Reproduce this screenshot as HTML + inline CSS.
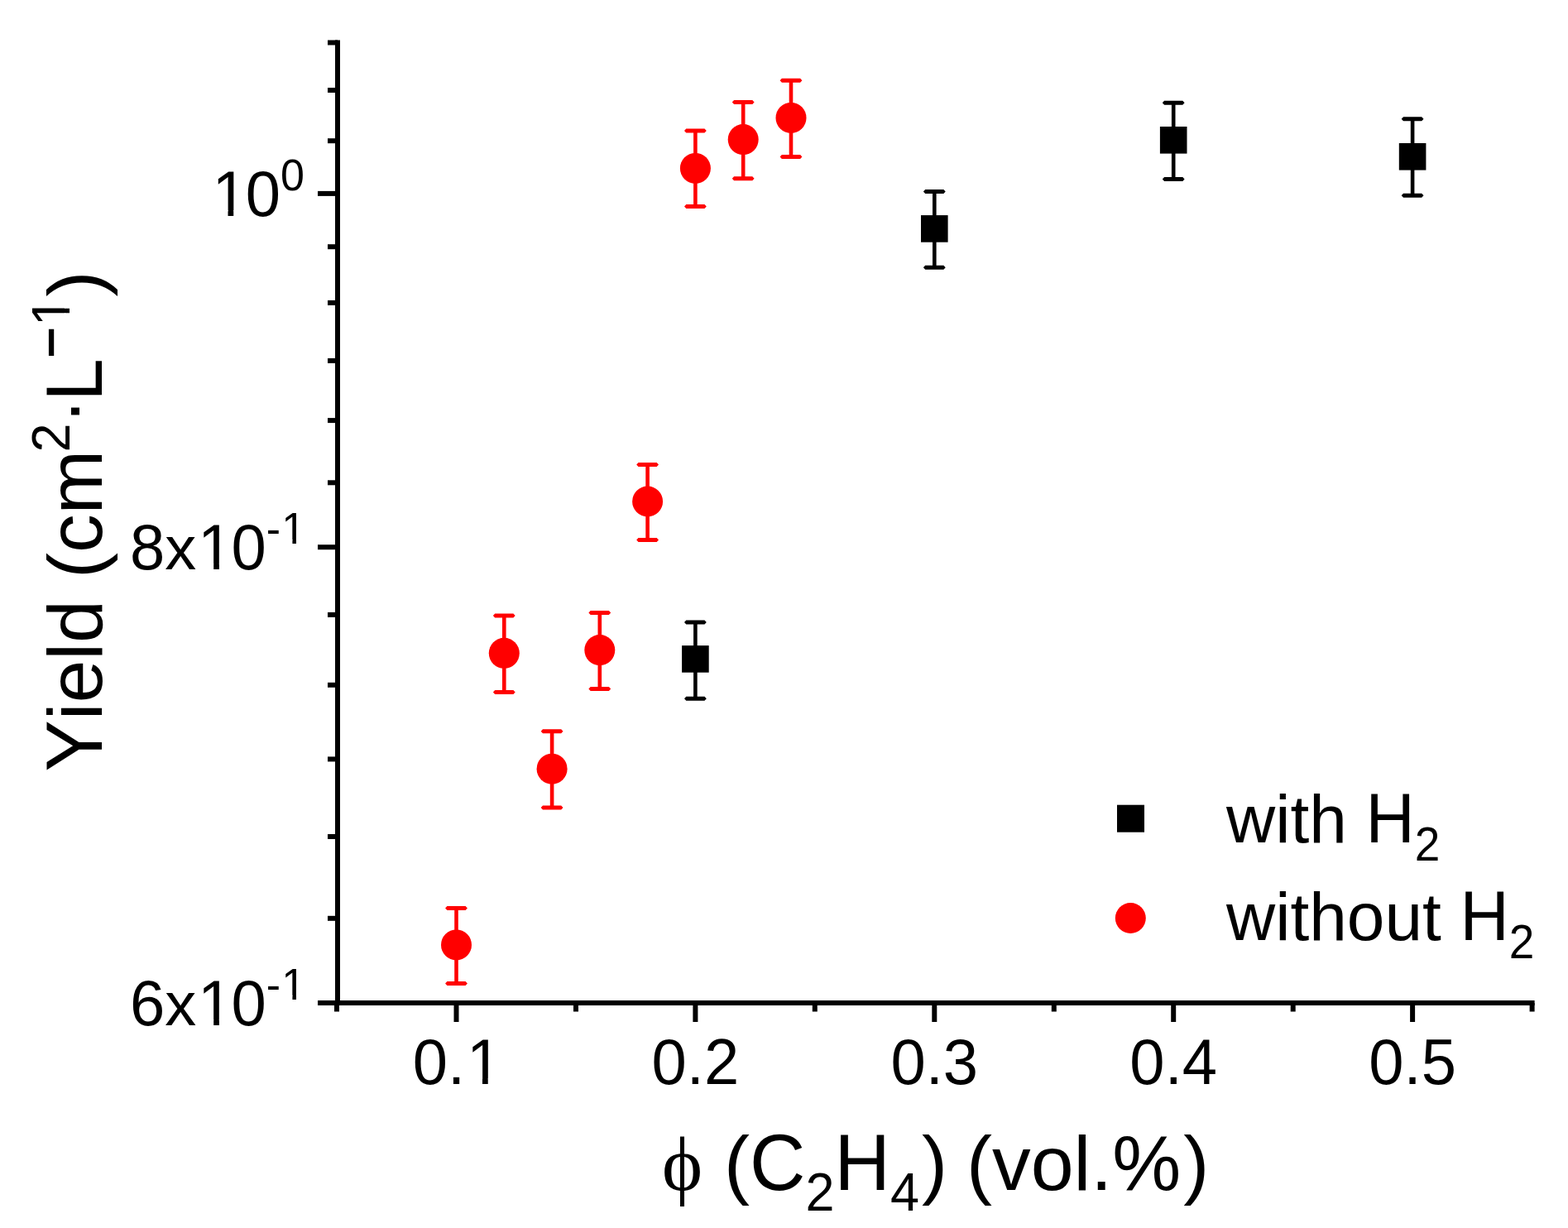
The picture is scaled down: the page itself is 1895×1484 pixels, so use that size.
<!DOCTYPE html>
<html><head><meta charset="utf-8"><title>Yield vs C2H4 fraction</title><style>
html,body{margin:0;padding:0;background:#fff;}
svg{display:block;font-family:"Liberation Sans",Arial,sans-serif;font-kerning:none;}
text{fill:#000;}
</style></head><body>
<svg width="1895" height="1484" viewBox="0 0 1895 1484">
<rect width="1895" height="1484" fill="#fff"/>
<defs><clipPath id="c1_76" clipPathUnits="userSpaceOnUse"><rect x="-38.00" y="-152.00" width="152.00" height="145.12"/><rect x="19.11" y="-9.68" width="6.72" height="47.68"/></clipPath><clipPath id="c1_52" clipPathUnits="userSpaceOnUse"><rect x="-26.00" y="-104.00" width="104.00" height="98.92"/><rect x="13.08" y="-7.88" width="4.60" height="33.88"/></clipPath><clipPath id="c1_63" clipPathUnits="userSpaceOnUse"><rect x="-31.50" y="-126.00" width="126.00" height="120.09"/><rect x="15.84" y="-8.71" width="5.57" height="40.21"/></clipPath></defs>
<g stroke="#000" stroke-width="6" fill="none">
<line x1="408" y1="48.5" x2="408" y2="1215"/>
<line x1="405" y1="1212" x2="1854.6" y2="1212"/>
<line x1="384" y1="1212.0" x2="408" y2="1212.0"/>
<line x1="396" y1="1109.8" x2="408" y2="1109.8"/>
<line x1="396" y1="1011.0" x2="408" y2="1011.0"/>
<line x1="396" y1="917.4" x2="408" y2="917.4"/>
<line x1="396" y1="827.8" x2="408" y2="827.8"/>
<line x1="396" y1="742.9" x2="408" y2="742.9"/>
<line x1="384" y1="661.2" x2="408" y2="661.2"/>
<line x1="396" y1="583.3" x2="408" y2="583.3"/>
<line x1="396" y1="508.1" x2="408" y2="508.1"/>
<line x1="396" y1="435.9" x2="408" y2="435.9"/>
<line x1="396" y1="365.9" x2="408" y2="365.9"/>
<line x1="396" y1="298.2" x2="408" y2="298.2"/>
<line x1="384" y1="233.9" x2="408" y2="233.9"/>
<line x1="396" y1="170.2" x2="408" y2="170.2"/>
<line x1="396" y1="109.0" x2="408" y2="109.0"/>
<line x1="396" y1="51.5" x2="408" y2="51.5"/>
<line x1="407.0" y1="1212" x2="407.0" y2="1222.5"/>
<line x1="551.5" y1="1212" x2="551.5" y2="1235"/>
<line x1="696.0" y1="1212" x2="696.0" y2="1222.5"/>
<line x1="840.4" y1="1212" x2="840.4" y2="1235"/>
<line x1="984.8" y1="1212" x2="984.8" y2="1222.5"/>
<line x1="1129.3" y1="1212" x2="1129.3" y2="1235"/>
<line x1="1273.8" y1="1212" x2="1273.8" y2="1222.5"/>
<line x1="1418.2" y1="1212" x2="1418.2" y2="1235"/>
<line x1="1562.7" y1="1212" x2="1562.7" y2="1222.5"/>
<line x1="1707.1" y1="1212" x2="1707.1" y2="1235"/>
<line x1="1851.6" y1="1212" x2="1851.6" y2="1222.5"/>
</g>
<path d="M840.4 751.9V844.3" stroke="#000" stroke-width="4.6" fill="none"/><path d="M827.0 751.9L829.3 749.4H851.5L853.8 751.9L851.5 754.4H829.3ZM827.0 844.3L829.3 841.8H851.5L853.8 844.3L851.5 846.8H829.3Z" fill="#000"/>
<rect x="824.1" y="780.1" width="32.6" height="32.6" fill="#000"/>
<path d="M1129.3 231.5V323.2" stroke="#000" stroke-width="4.6" fill="none"/><path d="M1115.9 231.5L1118.2 229.0H1140.4L1142.7 231.5L1140.4 234.0H1118.2ZM1115.9 323.2L1118.2 320.7H1140.4L1142.7 323.2L1140.4 325.7H1118.2Z" fill="#000"/>
<rect x="1113.0" y="260.1" width="32.6" height="32.6" fill="#000"/>
<path d="M1418.2 124.3V216.5" stroke="#000" stroke-width="4.6" fill="none"/><path d="M1404.8 124.3L1407.1 121.8H1429.3L1431.6 124.3L1429.3 126.8H1407.1ZM1404.8 216.5L1407.1 214.0H1429.3L1431.6 216.5L1429.3 219.0H1407.1Z" fill="#000"/>
<rect x="1401.9" y="153.0" width="32.6" height="32.6" fill="#000"/>
<path d="M1707.1 143.8V236.3" stroke="#000" stroke-width="4.6" fill="none"/><path d="M1693.7 143.8L1696.0 141.3H1718.2L1720.5 143.8L1718.2 146.3H1696.0ZM1693.7 236.3L1696.0 233.8H1718.2L1720.5 236.3L1718.2 238.8H1696.0Z" fill="#000"/>
<rect x="1690.8" y="173.0" width="32.6" height="32.6" fill="#000"/>
<path d="M551.5 1097.4V1188.5" stroke="#f00" stroke-width="4.6" fill="none"/><path d="M538.1 1097.4L540.4 1094.9H562.6L564.9 1097.4L562.6 1099.9H540.4ZM538.1 1188.5L540.4 1186.0H562.6L564.9 1188.5L562.6 1191.0H540.4Z" fill="#f00"/>
<circle cx="551.5" cy="1141.9" r="18.5" fill="#f00"/>
<path d="M609.3 744.0V836.4" stroke="#f00" stroke-width="4.6" fill="none"/><path d="M595.9 744.0L598.2 741.5H620.4L622.7 744.0L620.4 746.5H598.2ZM595.9 836.4L598.2 833.9H620.4L622.7 836.4L620.4 838.9H598.2Z" fill="#f00"/>
<circle cx="609.3" cy="789.3" r="18.5" fill="#f00"/>
<path d="M667.1 883.8V976.0" stroke="#f00" stroke-width="4.6" fill="none"/><path d="M653.7 883.8L656.0 881.3H678.2L680.5 883.8L678.2 886.3H656.0ZM653.7 976.0L656.0 973.5H678.2L680.5 976.0L678.2 978.5H656.0Z" fill="#f00"/>
<circle cx="667.1" cy="929.2" r="18.5" fill="#f00"/>
<path d="M724.8 740.4V832.5" stroke="#f00" stroke-width="4.6" fill="none"/><path d="M711.4 740.4L713.7 737.9H735.9L738.2 740.4L735.9 742.9H713.7ZM711.4 832.5L713.7 830.0H735.9L738.2 832.5L735.9 835.0H713.7Z" fill="#f00"/>
<circle cx="724.8" cy="785.6" r="18.5" fill="#f00"/>
<path d="M782.6 561.4V652.5" stroke="#f00" stroke-width="4.6" fill="none"/><path d="M769.2 561.4L771.5 558.9H793.7L796.0 561.4L793.7 563.9H771.5ZM769.2 652.5L771.5 650.0H793.7L796.0 652.5L793.7 655.0H771.5Z" fill="#f00"/>
<circle cx="782.6" cy="606.0" r="18.5" fill="#f00"/>
<path d="M840.4 157.9V249.4" stroke="#f00" stroke-width="4.6" fill="none"/><path d="M827.0 157.9L829.3 155.4H851.5L853.8 157.9L851.5 160.4H829.3ZM827.0 249.4L829.3 246.9H851.5L853.8 249.4L851.5 251.9H829.3Z" fill="#f00"/>
<circle cx="840.4" cy="203.4" r="18.5" fill="#f00"/>
<path d="M898.2 123.4V215.8" stroke="#f00" stroke-width="4.6" fill="none"/><path d="M884.8 123.4L887.1 120.9H909.3L911.6 123.4L909.3 125.9H887.1ZM884.8 215.8L887.1 213.3H909.3L911.6 215.8L909.3 218.3H887.1Z" fill="#f00"/>
<circle cx="898.2" cy="168.6" r="18.5" fill="#f00"/>
<path d="M956.0 97.3V189.4" stroke="#f00" stroke-width="4.6" fill="none"/><path d="M942.6 97.3L944.9 94.8H967.1L969.4 97.3L967.1 99.8H944.9ZM942.6 189.4L944.9 186.9H967.1L969.4 189.4L967.1 191.9H944.9Z" fill="#f00"/>
<circle cx="956.0" cy="142.4" r="18.5" fill="#f00"/>
<rect x="1350" y="972.7" width="33" height="33" fill="#000"/>
<circle cx="1366.3" cy="1109.5" r="18.5" fill="#f00"/>
<text transform="translate(1482.00 1018.20) scale(1 0.985)" font-size="82">with </text><text transform="translate(1650.60 1018.20) scale(1 1.04)" font-size="82">H</text><text transform="translate(1709.82 1040.00) scale(1 1.03)" font-size="55">2</text>
<text transform="translate(1482.00 1136.00) scale(1 0.985)" font-size="82">without </text><text transform="translate(1764.60 1136.00) scale(1 1.04)" font-size="82">H</text><text transform="translate(1823.81 1158.00) scale(1 1.03)" font-size="55">2</text>
<text transform="translate(256.40 261.10) scale(1 1.03)" font-size="76" clip-path="url(#c1_76)">1</text><text transform="translate(296.81 261.10) scale(1 1.03)" font-size="76">0</text><text transform="translate(339.08 230.10) scale(1 1.03)" font-size="52">0</text>
<text transform="translate(156.96 688.32) scale(1 1.03)" font-size="76">8</text><text transform="translate(199.23 688.32) scale(1 0.985)" font-size="76">x</text><text transform="translate(239.08 688.32) scale(1 1.03)" font-size="76" clip-path="url(#c1_76)">1</text><text transform="translate(279.50 688.32) scale(1 1.03)" font-size="76">0</text><text transform="translate(321.76 657.32) scale(1 1.0)" font-size="52">-</text><text transform="translate(340.35 657.32) scale(1 1.03)" font-size="52" clip-path="url(#c1_52)">1</text>
<text transform="translate(156.96 1239.10) scale(1 1.03)" font-size="76">6</text><text transform="translate(199.23 1239.10) scale(1 0.985)" font-size="76">x</text><text transform="translate(239.08 1239.10) scale(1 1.03)" font-size="76" clip-path="url(#c1_76)">1</text><text transform="translate(279.50 1239.10) scale(1 1.03)" font-size="76">0</text><text transform="translate(321.76 1208.10) scale(1 1.0)" font-size="52">-</text><text transform="translate(340.35 1208.10) scale(1 1.03)" font-size="52" clip-path="url(#c1_52)">1</text>
<text transform="translate(498.67 1310.40) scale(1 1.03)" font-size="76">0</text><text transform="translate(540.94 1310.40) scale(1 1.0)" font-size="76">.</text><text transform="translate(563.91 1310.40) scale(1 1.03)" font-size="76" clip-path="url(#c1_76)">1</text>
<text transform="translate(787.57 1310.40) scale(1 1.03)" font-size="76">0</text><text transform="translate(829.84 1310.40) scale(1 1.0)" font-size="76">.</text><text transform="translate(850.96 1310.40) scale(1 1.03)" font-size="76">2</text>
<text transform="translate(1076.47 1310.40) scale(1 1.03)" font-size="76">0</text><text transform="translate(1118.74 1310.40) scale(1 1.0)" font-size="76">.</text><text transform="translate(1139.86 1310.40) scale(1 1.03)" font-size="76">3</text>
<text transform="translate(1365.37 1310.40) scale(1 1.03)" font-size="76">0</text><text transform="translate(1407.64 1310.40) scale(1 1.0)" font-size="76">.</text><text transform="translate(1428.76 1310.40) scale(1 1.03)" font-size="76">4</text>
<text transform="translate(1654.27 1310.40) scale(1 1.03)" font-size="76">0</text><text transform="translate(1696.54 1310.40) scale(1 1.0)" font-size="76">.</text><text transform="translate(1717.66 1310.40) scale(1 1.03)" font-size="76">5</text>
<g transform="translate(122.5 0) rotate(-90)"><text transform="translate(-932.50 0.00) scale(1 1.04)" font-size="93.3">Y</text><text transform="translate(-870.27 0.00) scale(1 0.985)" font-size="93.3">ield </text><text transform="translate(-699.11 0.00) scale(1 1.0)" font-size="93.3">(</text><text transform="translate(-668.04 0.00) scale(1 0.985)" font-size="93.3">cm</text><text transform="translate(-546.40 -38.30) scale(1 1.03)" font-size="63">2</text><text transform="translate(-512.40 -6.60) scale(1 1.0)" font-size="93.3">·</text><text transform="translate(-484.90 0.00) scale(1 1.04)" font-size="93.3">L</text><text transform="translate(-432.20 -39.80) scale(1 1.0)" font-size="63" stroke="#000" stroke-width="1.8">−</text><text transform="translate(-394.06 -38.30) scale(1 1.03)" font-size="63" clip-path="url(#c1_63)">1</text><text transform="translate(-358.50 0.00) scale(1 1.0)" font-size="93.3">)</text></g>
<text transform="translate(800.00 1438.00) scale(1 1.0)" font-size="93.3" font-family="Liberation Serif">ϕ </text><text transform="translate(875.03 1438.00) scale(1 1.0)" font-size="93.3">(</text><text transform="translate(906.10 1438.00) scale(1 1.04)" font-size="93.3">C</text><text transform="translate(973.48 1462.50) scale(1 1.03)" font-size="63">2</text><text transform="translate(1008.52 1438.00) scale(1 1.04)" font-size="93.3">H</text><text transform="translate(1075.90 1462.50) scale(1 1.03)" font-size="63">4</text><text transform="translate(1113.93 1438.00) scale(1 1.0)" font-size="93.3">) </text><text transform="translate(1167.92 1438.00) scale(1 1.0)" font-size="93.3">(</text><text transform="translate(1198.99 1438.00) scale(1 0.985)" font-size="93.3">vol</text><text transform="translate(1318.26 1438.00) scale(1 1.0)" font-size="93.3">.</text><text transform="translate(1344.18 1438.00) scale(1 1.02)" font-size="93.3">%</text><text transform="translate(1430.14 1438.00) scale(1 1.0)" font-size="93.3">)</text>
</svg>
</body></html>
